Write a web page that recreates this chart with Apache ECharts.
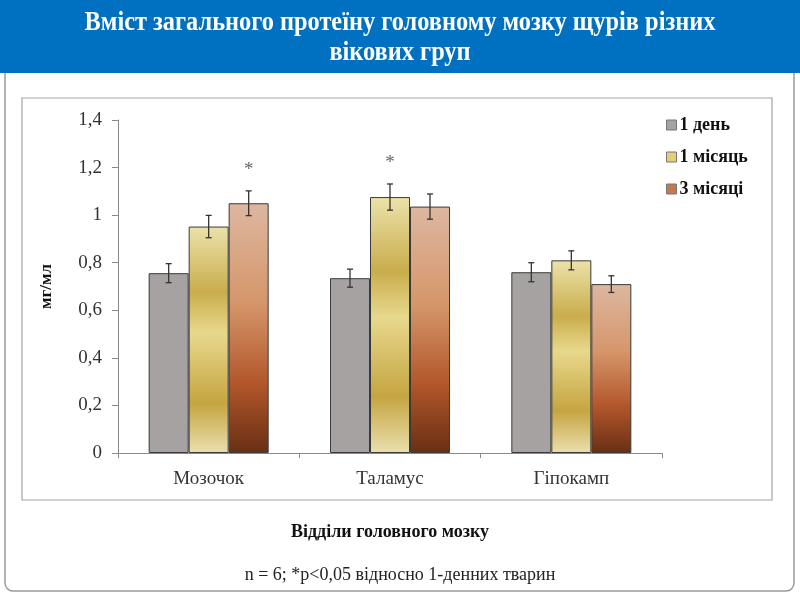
<!DOCTYPE html>
<html>
<head>
<meta charset="utf-8">
<title>Вміст загального протеїну</title>
<script src="https://cdn.jsdelivr.net/npm/echarts@6/dist/echarts.min.js"></script>
<style>
    html, body { margin: 0; padding: 0; background: #fff; }
    #chart { width: 800px; height: 600px; }
</style>
</head>
<body>
<div id="chart"></div>
<script>
// дані з рисунка
var categories = ['Мозочок', 'Таламус', 'Гіпокамп'];
var seriesNames = ['1 день', '1 місяць', '3 місяці'];
var day1 = [0.756, 0.735, 0.76];
var month1 = [0.952, 1.076, 0.81];
var month3 = [1.05, 1.036, 0.71];
var err1 = [0.04, 0.038, 0.04];
var err2 = [0.047, 0.055, 0.04];
var err3 = [0.052, 0.053, 0.035];
// зірочки: *p<0,05
var star1 = [0, 0, 0];
var star2 = [0, 1, 0];
var star3 = [1, 0, 0];
var yTicks = { min: 0, max: 1.4, step: 0.2 };

var serif = 'Liberation Serif, Times New Roman, serif';
var barW = 40;

var chart = echarts.init(document.getElementById('chart'));

// заливки стовпців
var fillGray = '#a6a2a1';
var fillGold = new echarts.graphic.LinearGradient(0, 0, 0, 1, [
    { offset: 0, color: '#ece2aa' },
    { offset: 0.29, color: '#c9ad4c' },
    { offset: 0.47, color: '#e8d88c' },
    { offset: 0.78, color: '#c5a541' },
    { offset: 1, color: '#eadfae' }
]);
var fillCopper = new echarts.graphic.LinearGradient(0, 0, 0, 1, [
    { offset: 0, color: '#ddb7a0' },
    { offset: 0.4, color: '#d5966a' },
    { offset: 0.72, color: '#b2572b' },
    { offset: 1, color: '#682f14' }
]);

function withErr(vals, errs, stars) {
    return vals.map(function (v, i) { return [i, v, errs[i], stars[i]]; });
}

// вуса похибки + зірочка
function errRenderer(offset) {
    return function (params, api) {
        var x = api.coord([api.value(0), 0])[0] + offset;
        var v = api.value(1), e = api.value(2);
        var hi = api.coord([api.value(0), v + e])[1];
        var lo = api.coord([api.value(0), v - e])[1];
        var st = { stroke: '#333', lineWidth: 1.3 };
        var kids = [
            { type: 'line', shape: { x1: x, y1: hi, x2: x, y2: lo }, style: st },
            { type: 'line', shape: { x1: x - 3, y1: hi, x2: x + 3, y2: hi }, style: st },
            { type: 'line', shape: { x1: x - 3, y1: lo, x2: x + 3, y2: lo }, style: st }
        ];
        if (api.value(3)) {
            kids.push({
                type: 'text',
                style: { text: '*', x: x, y: hi - 21, align: 'center', verticalAlign: 'middle',
                    fill: '#666', font: '19px ' + serif }
            });
        }
        return { type: 'group', children: kids };
    };
}

function barSeries(name, data, fill) {
    return {
        name: name,
        type: 'bar',
        barWidth: barW,
        barGap: '0%',
        data: data,
        itemStyle: { color: fill, borderColor: '#3a3a3a', borderWidth: 1 }
    };
}

function errSeries(name, data, offset) {
    return {
        name: name,
        type: 'custom',
        renderItem: errRenderer(offset),
        encode: { x: 0, y: 1 },
        data: data,
        z: 5,
        silent: true
    };
}

var option = {
    animation: false,
    graphic: [
        {
            type: 'rect', z: -10,
            shape: { x: 5, y: 60, width: 789, height: 531, r: [0, 0, 8, 8] },
            style: { fill: '#fff', stroke: '#9a9a9a', lineWidth: 1.5 }
        },
        {
            type: 'rect', z: -9,
            shape: { x: 0, y: 0, width: 800, height: 73 },
            style: { fill: '#0070c0' }
        },
        {
            // заголовок, трохи стиснутий по ширині
            type: 'group', x: 400, y: 0, scaleX: 0.87, z: 10,
            children: [{
                type: 'text',
                style: {
                    text: 'Вміст загального протеїну головному мозку щурів різних\nвікових груп',
                    x: 0, y: 8, align: 'center', verticalAlign: 'top',
                    fill: '#fff', font: 'bold 28px ' + serif, lineHeight: 30
                }
            }]
        },
        {
            type: 'rect', z: -8,
            shape: { x: 22, y: 98, width: 750, height: 402 },
            style: { fill: 'none', stroke: '#a3a3a3', lineWidth: 1.2 }
        },
        {
            type: 'text', left: 'center', top: 566,
            style: {
                text: 'n = 6; *p<0,05 відносно 1-денних тварин',
                fill: '#222', font: '18px ' + serif
            }
        }
    ],
    legend: {
        orient: 'vertical',
        left: 661,
        top: 111,
        itemGap: 14,
        itemWidth: 10,
        itemHeight: 10,
        icon: 'rect',
        data: [
            { name: seriesNames[0], itemStyle: { color: '#a6a2a1', borderColor: '#777', borderWidth: 1 } },
            { name: seriesNames[1], itemStyle: { color: '#e2cf78', borderColor: '#777', borderWidth: 1 } },
            { name: seriesNames[2], itemStyle: { color: '#c8784a', borderColor: '#777', borderWidth: 1 } }
        ],
        textStyle: { fontFamily: serif, fontWeight: 'bold', fontSize: 18, color: '#111', padding: [0, 0, 0, -2] }
    },
    grid: { left: 118, right: 138, top: 120, bottom: 147 },
    xAxis: {
        type: 'category',
        data: categories,
        name: 'Відділи головного мозку',
        nameLocation: 'middle',
        nameGap: 70,
        nameTextStyle: { fontFamily: serif, fontWeight: 'bold', fontSize: 18, color: '#111' },
        axisLine: { lineStyle: { color: '#8a8a8a' } },
        axisTick: { show: true, length: 5, lineStyle: { color: '#8a8a8a' } },
        axisLabel: { fontFamily: serif, fontSize: 19, color: '#333', margin: 17 }
    },
    yAxis: {
        type: 'value',
        min: yTicks.min,
        max: yTicks.max,
        interval: yTicks.step,
        name: 'мг/мл',
        nameLocation: 'middle',
        nameGap: 63,
        nameRotate: 90,
        nameTextStyle: { fontFamily: serif, fontWeight: 'bold', fontSize: 17, color: '#111' },
        splitLine: { show: false },
        axisLine: { show: true, lineStyle: { color: '#8a8a8a' } },
        axisTick: { show: true, length: 6, lineStyle: { color: '#8a8a8a' } },
        axisLabel: {
            fontFamily: serif, fontSize: 19, color: '#333', margin: 16,
            formatter: function (v) { return String(+v.toFixed(1)).replace('.', ','); }
        }
    },
    series: [
        barSeries(seriesNames[0], day1, fillGray),
        barSeries(seriesNames[1], month1, fillGold),
        barSeries(seriesNames[2], month3, fillCopper),
        errSeries('err1', withErr(day1, err1, star1), -barW),
        errSeries('err2', withErr(month1, err2, star2), 0),
        errSeries('err3', withErr(month3, err3, star3), barW)
    ]
};

chart.setOption(option);
</script>
</body>
</html>
